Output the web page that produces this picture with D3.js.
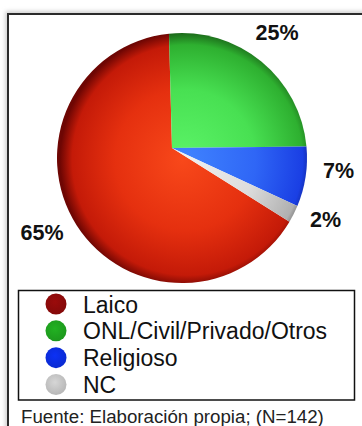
<!DOCTYPE html>
<html>
<head>
<meta charset="utf-8">
<script src="https://cdn.jsdelivr.net/npm/d3@7"></script>
<style>
  html, body { margin: 0; padding: 0; background: #fff; }
  svg { display: block; font-family: "Liberation Sans", Arial, Helvetica, sans-serif; }
</style>
</head>
<body>
<script>
// Distribución por tipo de entidad
const categories = ["Laico", "ONL/Civil/Privado/Otros", "Religioso", "NC"];
const shares = [65, 25, 7, 2];
const shareLabels = ["65%", "25%", "7%", "2%"];
const caption = "Fuente: Elaboración propia; (N=142)";

const W = 362, H = 426;
const svg = d3.select("body").append("svg").attr("width", W).attr("height", H);
const defs = svg.append("defs");

// Slice shading (light centre, darker rim)
const sliceShades = [
  ["#f8481a", "#e5300f", "#c41a08", "#6e0603"],
  ["#5cf468", "#48e052", "#2eb030", "#1a6418"],
  ["#4084ff", "#2f66f6", "#1a3fe4", "#0a1a78"],
  ["#f0f0f0", "#dcdcdc", "#b0b0b0", "#505050"]
];
const dotColors = ["#8e0a0a", "#1fa31f", "#0b2de0", "#c4c4c4"];

const cx = 182, cy = 158, R = 125;   // outline of the pie
const ax = 172, ay = 148;            // apex of the slices (tilted view)

sliceShades.forEach((s, i) => {
  const g = defs.append("radialGradient").attr("id", "slice" + i)
    .attr("gradientUnits", "userSpaceOnUse")
    .attr("cx", 188).attr("cy", 160).attr("r", 128)
    .attr("fx", 182).attr("fy", 160);
  g.append("stop").attr("offset", 0).attr("stop-color", s[0]);
  g.append("stop").attr("offset", 0.55).attr("stop-color", s[1]);
  g.append("stop").attr("offset", 0.9).attr("stop-color", s[2]);
  g.append("stop").attr("offset", 1).attr("stop-color", s[3]);
});
dotColors.forEach((c, i) => {
  const g = defs.append("radialGradient").attr("id", "dot" + i)
    .attr("cx", 0.45).attr("cy", 0.4).attr("r", 0.6);
  g.append("stop").attr("offset", 0).attr("stop-color", d3.color(c).brighter(0.25));
  g.append("stop").attr("offset", 1).attr("stop-color", d3.color(c).darker(0.2));
});
const blur = defs.append("filter").attr("id", "soft")
  .attr("x", "-10%").attr("y", "-10%").attr("width", "120%").attr("height", "120%");
blur.append("feGaussianBlur").attr("stdDeviation", 2);

// Outer frame with a soft grey halo
svg.append("rect").attr("x", 8).attr("y", 14).attr("width", 400).attr("height", 460)
  .attr("fill", "none").attr("stroke", "#c8c8c8").attr("stroke-width", 5)
  .attr("filter", "url(#soft)");
svg.append("rect").attr("x", 8).attr("y", 14).attr("width", 400).attr("height", 460)
  .attr("fill", "#fff").attr("stroke", "#2b2b2b").attr("stroke-width", 2);

// Pie angles: the second slice starts just left of 12 o'clock
const pie = d3.pie().sort(null).value(d => d)
  .startAngle(-1.5 * Math.PI / 180 - 2 * Math.PI * shares[0] / d3.sum(shares));
const arcs = pie(shares);

// Point where a ray from the apex at angle t (clockwise from 12 o'clock) meets the rim
function rimPoint(t) {
  const dx = Math.sin(t), dy = -Math.cos(t);
  const wx = ax - cx, wy = ay - cy;
  const b = wx * dx + wy * dy;
  const c = wx * wx + wy * wy - R * R;
  const s = -b + Math.sqrt(b * b - c);
  return [ax + s * dx, ay + s * dy];
}

function slicePath(a) {
  const p0 = rimPoint(a.startAngle), p1 = rimPoint(a.endAngle);
  const a0 = Math.atan2(p0[1] - cy, p0[0] - cx);
  let a1 = Math.atan2(p1[1] - cy, p1[0] - cx);
  while (a1 < a0) a1 += 2 * Math.PI;
  const p = d3.path();
  p.moveTo(ax, ay);
  p.lineTo(p0[0], p0[1]);
  p.arc(cx, cy, R, a0, a1, false);
  p.closePath();
  return p.toString();
}

svg.append("g").selectAll("path").data(arcs).join("path")
  .attr("d", slicePath)
  .attr("fill", (d, i) => `url(#slice${i})`);

// Percentage labels
const labelPos = [[42, 240], [277, 39.5], [338.5, 178], [325.5, 226.7]];
svg.append("g").selectAll("text").data(shareLabels).join("text")
  .attr("x", (d, i) => labelPos[i][0]).attr("y", (d, i) => labelPos[i][1])
  .attr("text-anchor", "middle")
  .attr("font-size", 21.5).attr("font-weight", "bold").attr("fill", "#111")
  .text(d => d);

// Legend
svg.append("rect").attr("x", 18.5).attr("y", 290.5).attr("width", 336).attr("height", 109.5)
  .attr("fill", "#fff").attr("stroke", "#111").attr("stroke-width", 1.5);
const rowY = d3.scalePoint().domain(categories).range([312.5, 393]);
const legend = svg.append("g").selectAll("g").data(categories).join("g")
  .attr("transform", d => `translate(0,${rowY(d)})`);
legend.append("circle").attr("cx", 56).attr("cy", -8.5).attr("r", 10.5)
  .attr("fill", (d, i) => `url(#dot${i})`);
legend.append("text").attr("x", 83).attr("y", 0)
  .attr("font-size", 23).attr("fill", "#111").text(d => d);

// Source note
svg.append("text").attr("x", 21).attr("y", 422.5)
  .attr("font-size", 18.7).attr("fill", "#222").text(caption);
</script>
</body>
</html>
